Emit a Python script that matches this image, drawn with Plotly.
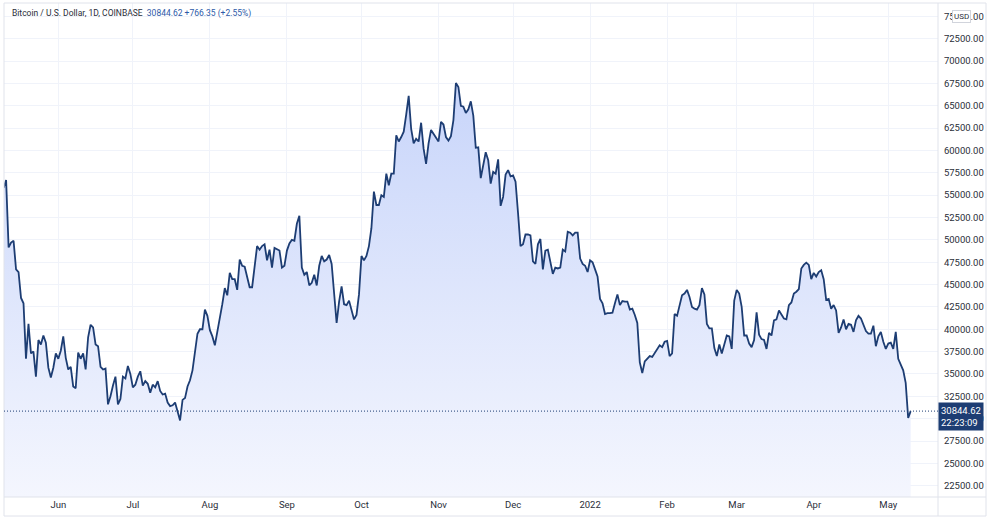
import pandas as pd
import plotly.graph_objects as go

# Daily closes, BTC/USD (COINBASE)
may_2021 = [55800, 56700, 49150, 49700, 49900, 46700, 46400, 43500, 42900, 36700, 40600,
            37300, 37500, 34700, 38800, 38300, 39300, 38500, 35700, 34600, 35700, 37300]
jun_2021 = [36700, 37600, 39200, 36800, 35500, 35800, 33600, 33400, 37400, 36700, 37300,
            35500, 39100, 40500, 40200, 38300, 38100, 35800, 35500, 35600, 31600, 32500,
            33700, 34700, 31600, 32200, 34700, 34500, 35900, 35000]
jul_2021 = [33500, 33800, 34700, 35300, 33700, 34200, 33900, 32900, 33800, 33500, 34200,
            33100, 32700, 32800, 31800, 31400, 31500, 31800, 30800, 29800, 32100, 32300,
            33600, 34300, 35400, 37300, 39500, 40000, 40000, 42200, 41500]
aug_2021 = [39900, 39200, 38200, 39700, 40900, 42800, 44600, 43800, 46300, 45600, 45600,
            44400, 47800, 47100, 47000, 45900, 44700, 44700, 46800, 49300, 48900, 49300,
            49500, 47700, 48900, 46900, 49100, 48900, 48800, 46900, 47100]
sep_2021 = [48800, 49600, 50000, 49900, 51800, 52700, 46900, 46100, 46400, 44900, 45200,
            46100, 44900, 47100, 48200, 47600, 47800, 48300, 47300, 43800, 40700, 43100,
            44800, 42800, 42700, 43200, 42100, 41100, 41600, 43900]
oct_2021 = [48200, 47700, 48200, 49300, 51300, 55400, 53900, 53900, 55000, 54800, 57400,
            56100, 57400, 57400, 61700, 61000, 61500, 62100, 64000, 66100, 62400, 60800,
            61300, 61000, 63100, 60200, 58500, 60800, 62300, 61900, 61500]
nov_2021 = [61000, 63200, 62900, 61500, 61100, 61600, 63400, 67550, 67100, 65000, 64900,
            64200, 64600, 65500, 63900, 60300, 60350, 56900, 58300, 59800, 58900, 56300,
            57600, 57400, 59000, 53800, 54800, 57300, 57800, 57100]
dec_2021 = [57200, 56500, 53000, 49300, 49500, 50600, 50600, 50500, 47600, 47300, 49500,
            50100, 46700, 48800, 48900, 47600, 46200, 46900, 46800, 46900, 48900, 48700,
            50900, 50800, 50500, 50800, 50800, 47900, 47300, 47100, 46400]
jan_2022 = [47700, 47500, 46700, 45900, 43400, 42900, 41700, 41800, 41800, 41850, 42900,
            43900, 42700, 43150, 43100, 43100, 42200, 42300, 41600, 40700, 36300, 35100,
            36400, 36700, 37000, 36900, 37300, 37800, 38200, 38000, 38600]
feb_2022 = [38700, 37000, 37300, 41700, 41500, 42700, 43800, 44000, 44400, 43600, 42500,
            42300, 42200, 42700, 44600, 43900, 40600, 40100, 40100, 37900, 37000, 38300,
            37300, 38300, 39300, 39200, 37800, 43200]
mar_2022 = [44400, 44000, 42500, 39300, 39300, 38400, 38000, 38800, 41900, 39400, 38900,
            38800, 37800, 39600, 39300, 41000, 41100, 42100, 41600, 41200, 41100, 42700,
            43000, 44000, 44200, 44500, 46800, 47200, 47450, 47200, 45600]
apr_2022 = [46300, 45900, 46400, 46600, 45600, 43300, 43400, 42300, 42700, 42100, 39600,
            40200, 41100, 40000, 40600, 40500, 39700, 41000, 41500, 41200, 40400, 39800,
            39500, 39500, 40400, 38100, 39200, 39700, 38600, 37800]
may_2022 = [38400, 38500, 37800, 39700, 36700, 36100, 35400, 34000, 30078.27, 30844.62]

price = (may_2021 + jun_2021 + jul_2021 + aug_2021 + sep_2021 + oct_2021 + nov_2021
         + dec_2021 + jan_2022 + feb_2022 + mar_2022 + apr_2022 + may_2022)
dates = pd.date_range("2021-05-10", periods=len(price), freq="D")

last_price = 30844.62
change = 766.35
change_pct = 2.55
countdown = "22:23:09"

month_ticks = ["2021-06-01", "2021-07-01", "2021-08-01", "2021-09-01", "2021-10-01",
               "2021-11-01", "2021-12-01", "2022-01-01", "2022-02-01", "2022-03-01",
               "2022-04-01", "2022-05-01"]
month_labels = ["Jun", "Jul", "Aug", "Sep", "Oct", "Nov", "Dec", "2022", "Feb", "Mar",
                "Apr", "May"]
price_ticks = list(range(22500, 75001, 2500))

LINE = "#1d3d73"
TEXT = "#2a2e39"
GRID = "#f0f3fa"
BORDER = "#e0e3eb"
FONT = "Roboto"

fig = go.Figure()
fig.add_trace(go.Scatter(
    x=dates, y=price, mode="lines",
    line=dict(color=LINE, width=1.8),
    fill="tozeroy",
    fillgradient=dict(type="vertical", start=21236, stop=67600,
                      colorscale=[[0, "rgb(244,246,254)"], [1, "rgb(200,213,250)"]]),
    hoverinfo="skip", showlegend=False,
))

fig.update_layout(
    width=1000, height=520,
    margin=dict(l=4, r=62, t=3, b=23),
    paper_bgcolor="white", plot_bgcolor="white",
    font=dict(family=FONT, size=9.5, color=TEXT),
    xaxis=dict(
        range=["2021-05-10 03:36", "2022-05-21"],
        tickvals=month_ticks, ticktext=month_labels,
        showgrid=True, gridcolor=GRID, gridwidth=1,
        zeroline=False, showline=False, ticks="",
        tickfont=dict(family=FONT, size=9.5, color=TEXT),
        fixedrange=True,
    ),
    yaxis=dict(
        side="right", range=[21236, 76493],
        tickvals=price_ticks, tickformat=".2f",
        showgrid=True, gridcolor=GRID, gridwidth=1,
        zeroline=False, showline=False, ticks="outside", ticklen=3, tickcolor="rgba(0,0,0,0)",
        tickfont=dict(family=FONT, size=9.5, color=TEXT),
        fixedrange=True,
    ),
    shapes=[
        # outer frame
        dict(type="rect", xref="paper", yref="paper", x0=0, x1=1.0514, y0=-0.0385, y1=1,
             line=dict(color=BORDER, width=1)),
        # price scale separator
        dict(type="line", xref="paper", yref="paper", x0=1, x1=1, y0=-0.0385, y1=1,
             line=dict(color=BORDER, width=1)),
        # time scale separator
        dict(type="line", xref="paper", yref="paper", x0=0, x1=1.0514, y0=0, y1=0,
             line=dict(color=BORDER, width=1)),
        # last price line
        dict(type="line", xref="paper", yref="y", x0=0, x1=1, y0=last_price, y1=last_price,
             line=dict(color=LINE, width=1, dash="1px,2px")),
    ],
    annotations=[
        dict(xref="paper", yref="paper", x=0.0064, y=0.979, xanchor="left", yanchor="middle",
             showarrow=False, align="left",
             text=("Bitcoin / U.S. Dollar, 1D, COINBASE&nbsp; "
                   f"<span style='color:#2d5aa8'>{last_price:.2f} "
                   f"+{change:.2f} (+{change_pct:.2f}%)</span>"),
             font=dict(family=FONT, size=8.5, color=TEXT)),
        dict(xref="paper", yref="paper", x=1.0255, y=0.9735, xanchor="center", yanchor="middle",
             showarrow=False, text="USD", bgcolor="white", bordercolor="#d1d4dc",
             borderwidth=1, borderpad=1, font=dict(family=FONT, size=8, color=TEXT)),
        dict(xref="paper", yref="y", x=1, y=last_price, xanchor="left", yanchor="middle",
             yshift=-5, showarrow=False, align="left",
             text=f"{last_price:.2f}<br>{countdown}", bgcolor=LINE, borderpad=2,
             font=dict(family=FONT, size=9.5, color="white")),
    ],
)

fig.write_html("out.html", config={"displayModeBar": False})
